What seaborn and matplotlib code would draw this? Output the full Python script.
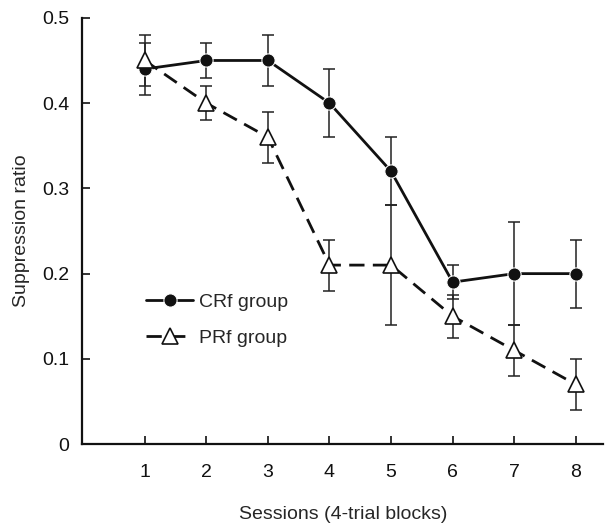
import numpy as np
import pandas as pd
import matplotlib
matplotlib.use("Agg")
import matplotlib.pyplot as plt
import seaborn as sns

sessions = [1, 2, 3, 4, 5, 6, 7, 8]
crf_mean = [0.44, 0.45, 0.45, 0.40, 0.32, 0.19, 0.20, 0.20]
crf_err = [0.03, 0.02, 0.03, 0.04, 0.04, 0.02, 0.06, 0.04]
prf_mean = [0.45, 0.40, 0.36, 0.21, 0.21, 0.15, 0.11, 0.07]
prf_err = [0.03, 0.02, 0.03, 0.03, 0.07, 0.025, 0.03, 0.03]
groups = ["CRf group", "PRf group"]

df = pd.DataFrame({
    "session": sessions * 2,
    "ratio": crf_mean + prf_mean,
    "group": [groups[0]] * 8 + [groups[1]] * 8,
})

sns.set_style("ticks")
plt.rcParams["font.family"] = ["Liberation Sans", "DejaVu Sans"]

fig = plt.figure(figsize=(6.05, 5.25), dpi=100)
ax = fig.add_axes([0.1355, 0.154, 0.862, 0.812])

# error bars first so markers sit on top
ax.errorbar(sessions, crf_mean, yerr=crf_err, fmt="none", ecolor="#222222",
            elinewidth=1.1, capsize=4, capthick=1.1, zorder=2)
ax.errorbar(sessions, prf_mean, yerr=prf_err, fmt="none", ecolor="#222222",
            elinewidth=1.1, capsize=4, capthick=1.1, zorder=2)

sns.lineplot(data=df, x="session", y="ratio", hue="group", style="group",
             palette={groups[0]: "#111111", groups[1]: "#111111"},
             dashes={groups[0]: "", groups[1]: (5.5, 3)},
             markers={groups[0]: "o", groups[1]: "^"},
             linewidth=2, markersize=9.5, ax=ax, zorder=3, legend=False)

# fill triangles white
lines = ax.get_lines()
lines[-1].set_markerfacecolor("white")
lines[-1].set_markeredgecolor("#111111")
lines[-1].set_markeredgewidth(1.2)
lines[-1].set_markersize(11)
lines[-2].set_markerfacecolor("#111111")

ax.legend([lines[-2], lines[-1]], groups, loc="upper left",
          bbox_to_anchor=(0.09, 0.395), frameon=False, fontsize=14,
          handlelength=2.4, handletextpad=0.3, labelspacing=0.95)

ax.set_xlim(-0.02, 8.45)
ax.set_ylim(0, 0.5)
ax.set_xticks(sessions)
ax.set_yticks([0, 0.1, 0.2, 0.3, 0.4, 0.5])
ax.set_yticklabels(["0", "0.1", "0.2", "0.3", "0.4", "0.5"])
ax.tick_params(direction="in", length=6, width=1.2, labelsize=14,
               colors="#111111", pad=9)
ax.tick_params(axis="x", pad=14)
for s in ["left", "bottom"]:
    ax.spines[s].set_linewidth(1.6)
    ax.spines[s].set_color("#111111")
sns.despine(ax=ax)

ax.set_xlabel("Sessions (4-trial blocks)", fontsize=14, labelpad=18)
ax.set_ylabel("Suppression ratio", fontsize=14, labelpad=9)

fig.savefig("out.png", dpi=100)
